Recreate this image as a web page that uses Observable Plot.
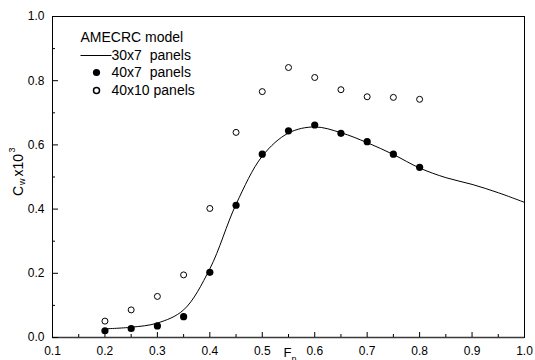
<!DOCTYPE html>
<html>
<head>
<meta charset="utf-8">
<script src="https://cdn.jsdelivr.net/npm/d3@7"></script>
<script src="https://cdn.jsdelivr.net/npm/@observablehq/plot@0.6"></script>
<style>
  html, body { margin: 0; padding: 0; background: #fff; }
  svg text { white-space: pre; }
  #wrap { position: relative; width: 535px; height: 360px; }
  #chart, #overlay { position: absolute; left: 0; top: 0; width: 535px; height: 360px; }
  #overlay svg { background: transparent; }
</style>
</head>
<body>
<div id="wrap"><div id="chart"></div><div id="overlay"></div></div>
<script>
// ---- data ----
const fnPoints = [0.2, 0.25, 0.3, 0.35, 0.4, 0.45, 0.5, 0.55, 0.6, 0.65, 0.7, 0.75, 0.8];
const cw40x7 = [0.021, 0.028, 0.036, 0.065, 0.203, 0.412, 0.571, 0.644, 0.662, 0.636, 0.610, 0.571, 0.530];
const cw40x10 = [0.051, 0.086, 0.128, 0.195, 0.402, 0.639, 0.766, 0.841, 0.810, 0.772, 0.750, 0.748, 0.742];
const fnCurve = [0.2, 0.25, 0.3, 0.35, 0.4, 0.45, 0.5, 0.55, 0.6, 0.65, 0.7, 0.75, 0.8, 0.85, 0.9, 0.95, 1.0];
const cw30x7 = [0.027, 0.032, 0.045, 0.086, 0.214, 0.415, 0.565, 0.637, 0.656, 0.638, 0.607, 0.570, 0.528, 0.498, 0.477, 0.451, 0.421];
const xMajor = [0.1, 0.2, 0.3, 0.4, 0.5, 0.6, 0.7, 0.8, 0.9, 1.0];
const xMinor = [0.15, 0.25, 0.35, 0.45, 0.55, 0.65, 0.75, 0.85, 0.95];
const yMajor = [0.0, 0.2, 0.4, 0.6, 0.8, 1.0];
const yMinor = [0.1, 0.3, 0.5, 0.7, 0.9];
const xDomain = [0.1, 1.0];
const yDomain = [0, 1.0];
const legendTitle = "AMECRC model";
const legendLabels = ["30x7  panels", "40x7  panels", "40x10 panels"];

const pts7 = fnPoints.map((x, i) => ({x, y: cw40x7[i]}));
const pts10 = fnPoints.map((x, i) => ({x, y: cw40x10[i]}));
const curve = fnCurve.map((x, i) => ({x, y: cw30x7[i]}));

const W = 535, H = 360, mL = 52, mR = 11, mT = 16, mB = 23;
const fw = W - mL - mR, fh = H - mT - mB;
const fmt = d3.format(".1f");
const ff = "Liberation Sans, Arial, sans-serif";
const hline = { draw(ctx) { ctx.moveTo(-16, 0); ctx.lineTo(15, 0); } };
const legendDy = [39, 56, 74];
const layout = { width: W, height: H, marginLeft: mL, marginRight: mR, marginTop: mT, marginBottom: mB };

const chart = Plot.plot({
  ...layout,
  x: { domain: xDomain },
  y: { domain: yDomain },
  marks: [
    Plot.axisX(xMajor, { tickSize: 0, tickPadding: 9, tickFormat: fmt, label: null, fontSize: 12, fontFamily: ff, fill: "#000" }),
    Plot.axisY(yMajor, { tickSize: 0, tickPadding: 8, tickFormat: fmt, label: null, fontSize: 12, fontFamily: ff, fill: "#000" }),
    Plot.line(curve, { x: "x", y: "y", curve: "catmull-rom", stroke: "#000", strokeWidth: 1 }),
    Plot.dot(pts7, { x: "x", y: "y", r: 3.6, fill: "#000", stroke: "none" }),
    Plot.dot(pts10, { x: "x", y: "y", r: 3, fill: "#fff", stroke: "#000", strokeWidth: 1 }),
    Plot.text([legendTitle], { frameAnchor: "top-left", dx: 28, dy: 21, text: d => d, textAnchor: "start", lineAnchor: "middle", fontSize: 14, fontFamily: ff }),
    Plot.dot([0], { frameAnchor: "top-left", dx: 44, dy: legendDy[0], symbol: hline, stroke: "#000", fill: "none", strokeWidth: 1 }),
    Plot.dot([0], { frameAnchor: "top-left", dx: 44, dy: legendDy[1], r: 3.6, fill: "#000", stroke: "none" }),
    Plot.dot([0], { frameAnchor: "top-left", dx: 44, dy: legendDy[2], r: 3, fill: "#fff", stroke: "#000" }),
    ...legendLabels.map((t, i) => Plot.text([t], { frameAnchor: "top-left", dx: 59, dy: legendDy[i], text: d => d, textAnchor: "start", lineAnchor: "middle", fontSize: 14, fontFamily: ff })),
    Plot.text(["F"], { frameAnchor: "bottom", dx: -5, dy: 10, text: d => d, textAnchor: "start", lineAnchor: "top", fontSize: 13, fontFamily: ff }),
    Plot.text(["n"], { frameAnchor: "bottom", dx: 3, dy: 18, text: d => d, textAnchor: "start", lineAnchor: "top", fontSize: 9, fontFamily: ff }),
    Plot.text(["C"], { frameAnchor: "left", dx: -30, dy: 19, rotate: -90, text: d => d, textAnchor: "start", lineAnchor: "bottom", fontSize: 14, fontFamily: ff }),
    Plot.text(["w"], { frameAnchor: "left", dx: -28, dy: 8, rotate: -90, text: d => d, textAnchor: "start", lineAnchor: "bottom", fontSize: 9, fontFamily: ff }),
    Plot.text(["x10"], { frameAnchor: "left", dx: -30, dy: -0.5, rotate: -90, text: d => d, textAnchor: "start", lineAnchor: "bottom", fontSize: 14, fontFamily: ff }),
    Plot.text(["3"], { frameAnchor: "left", dx: -38, dy: -24.5, rotate: -90, text: d => d, textAnchor: "start", lineAnchor: "bottom", fontSize: 9, fontFamily: ff })
  ]
});
document.getElementById("chart").appendChild(chart);

// frame and inward ticks in a second, transparent Plot layered on top with the same scales
const frameLayer = Plot.plot({
  ...layout,
  x: { domain: xDomain, axis: null },
  y: { domain: yDomain, axis: null },
  marks: [
    Plot.frame({ stroke: "#000", strokeWidth: 1 }),
    Plot.ruleY([0], { stroke: "#3a3a3a", strokeWidth: 1.6 }),
    Plot.tickX(xMajor, { x: d => d, insetTop: fh - 5, stroke: "#000" }),
    Plot.tickX(xMinor, { x: d => d, insetTop: fh - 3, stroke: "#000" }),
    Plot.tickY(yMajor, { y: d => d, insetRight: fw - 6, stroke: "#000" }),
    Plot.tickY(yMinor, { y: d => d, insetRight: fw - 3, stroke: "#000" })
  ]
});
document.getElementById("overlay").appendChild(frameLayer);
</script>
</body>
</html>
